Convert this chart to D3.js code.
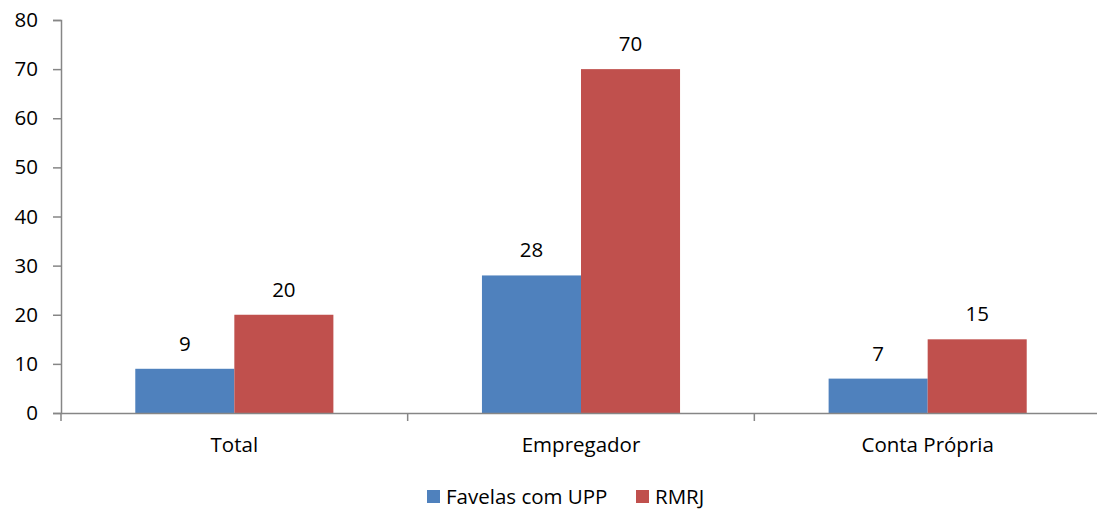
<!DOCTYPE html>
<html>
<head>
<meta charset="utf-8">
<script src="https://cdn.jsdelivr.net/npm/d3@7"></script>
<style>
  body { margin: 0; background: #fff; }
  svg { display: block; font-family: "Open Sans", "Noto Sans", sans-serif; }
</style>
</head>
<body>
<svg id="chart" width="1097" height="509"></svg>
<script>
const categories = ['Total', 'Empregador', 'Conta Própria'];
const seriesNames = ['Favelas com UPP', 'RMRJ'];
const favelas = [9, 28, 7];
const rmrj = [20, 70, 15];
const yTicks = [0, 10, 20, 30, 40, 50, 60, 70, 80];
const colors = ['#4F81BD', '#C0504D'];
const fs = 20.5;

const svg = d3.select('#chart');
const mLeft = 61, mRight = 1101, mTop = 20, mBottom = 413;

const x = d3.scaleBand().domain(categories).range([mLeft, mRight]);
const xs = d3.scaleBand().domain(seriesNames).range([0, x.bandwidth()]).paddingOuter(0.75);
const y = d3.scaleLinear().domain([0, 80]).range([mBottom, mTop]);

const data = categories.map((c, i) => ({ cat: c, vals: [favelas[i], rmrj[i]] }));

// y axis
const yAxis = svg.append('g')
  .attr('transform', `translate(${mLeft},0)`)
  .call(d3.axisLeft(y).tickValues(yTicks).tickSize(8).tickPadding(15));
yAxis.select('.domain').attr('stroke', '#868686').attr('stroke-width', 1.5);
yAxis.selectAll('.tick line').attr('stroke', '#868686').attr('stroke-width', 1.5);
yAxis.selectAll('.tick text').attr('font-size', fs).attr('fill', '#000')
  .style('font-family', '"Open Sans", sans-serif');

// bars
const groups = svg.append('g').selectAll('g')
  .data(data).enter().append('g')
  .attr('transform', d => `translate(${x(d.cat)},0)`);

groups.selectAll('rect')
  .data(d => d.vals.map((v, j) => ({ name: seriesNames[j], v, j })))
  .enter().append('rect')
  .attr('x', d => xs(d.name))
  .attr('width', xs.bandwidth())
  .attr('y', d => y(d.v))
  .attr('height', d => y(0) - y(d.v))
  .attr('fill', d => colors[d.j]);

groups.selectAll('text.val')
  .data(d => d.vals.map((v, j) => ({ name: seriesNames[j], v, j })))
  .enter().append('text')
  .attr('class', 'val')
  .attr('x', d => xs(d.name) + xs.bandwidth() / 2)
  .attr('y', d => y(d.v) - 18)
  .attr('text-anchor', 'middle')
  .attr('font-size', fs)
  .text(d => d.v);

// x axis
const xAxis = svg.append('g')
  .attr('transform', `translate(0,${mBottom})`)
  .call(d3.axisBottom(x).tickSize(0).tickPadding(24));
xAxis.select('.domain').attr('stroke', '#868686').attr('stroke-width', 1.5);
xAxis.selectAll('.tick text').attr('font-size', fs).attr('fill', '#000')
  .style('font-family', '"Open Sans", sans-serif');
const bounds = [...categories.map(c => x(c)), mRight];
xAxis.selectAll('line.sep').data(bounds).enter().append('line')
  .attr('class', 'sep')
  .attr('x1', d => d).attr('x2', d => d)
  .attr('y1', 0).attr('y2', 8)
  .attr('stroke', '#868686').attr('stroke-width', 1.5);

// legend
const legend = svg.append('g').attr('transform', 'translate(427,497)');
const legendX = [0, 209];
seriesNames.forEach((n, i) => {
  const g = legend.append('g').attr('transform', `translate(${legendX[i]},0)`);
  g.append('rect').attr('x', 0).attr('y', -7).attr('width', 13).attr('height', 13).attr('fill', colors[i]);
  g.append('text').attr('x', 19).attr('y', 7).attr('font-size', fs).text(n);
});
</script>
</body>
</html>
